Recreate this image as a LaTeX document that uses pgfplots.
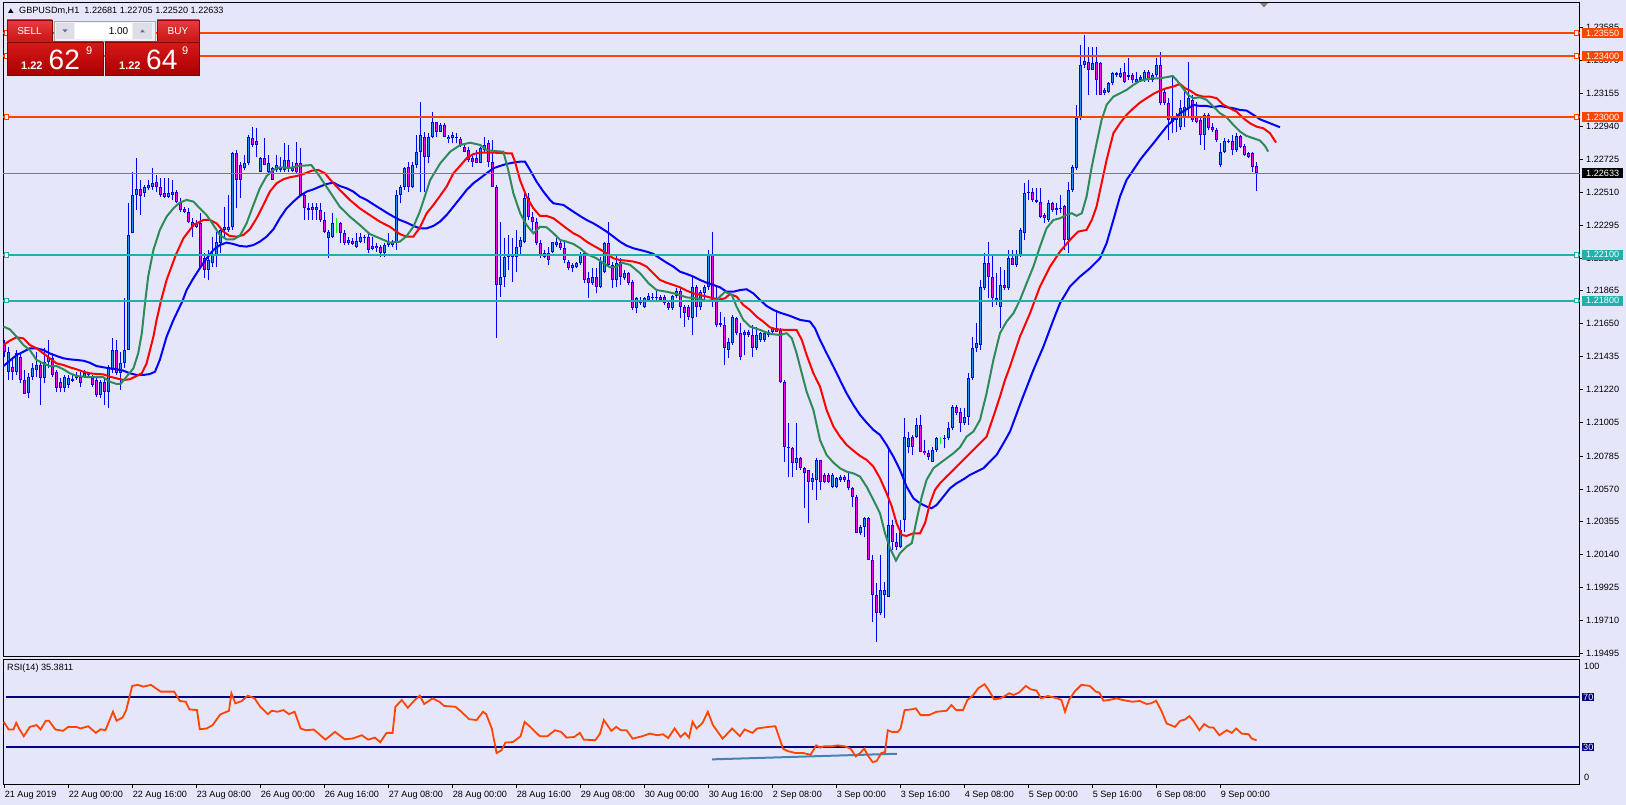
\documentclass[border=0pt]{standalone}
\usepackage{fontspec}
\setmainfont{Liberation Sans}
\usepackage{pgfplots}
\usepackage{pgfplotstable}
\pgfplotsset{compat=1.18}
\usetikzlibrary{calc,backgrounds}
\definecolor{lav}{RGB}{230,230,250}
\definecolor{ored}{RGB}{255,69,0}
\definecolor{lsea}{RGB}{32,178,170}
\definecolor{mablue}{RGB}{0,0,255}
\definecolor{mared}{RGB}{255,0,0}
\definecolor{magreen}{RGB}{46,139,87}
\definecolor{bullfill}{RGB}{30,144,255}
\definecolor{bearfill}{RGB}{255,0,255}
\definecolor{navyl}{RGB}{0,0,128}
\definecolor{trendc}{RGB}{70,130,180}
\definecolor{curp}{RGB}{120,120,135}
\definecolor{hdtop}{RGB}{232,60,60}
\definecolor{hdbot}{RGB}{200,20,20}
\definecolor{hddraw}{RGB}{150,0,0}
\definecolor{pxtop}{RGB}{215,25,25}
\definecolor{pxbot}{RGB}{170,0,0}
\definecolor{pxdraw}{RGB}{140,0,0}
\definecolor{sephl}{RGB}{240,150,150}
\definecolor{spinbg}{RGB}{240,240,244}
\definecolor{btnbg}{RGB}{222,222,230}
\definecolor{arrowc}{RGB}{100,110,170}
\newcommand\lab{\fontsize{9.1}{10}\selectfont}

% GBPUSD H1 bars: index, open, high, low, close
\pgfplotstableread{
i o h l c
0 1.21522 1.21544 1.21435 1.21467
1 1.21336 1.21500 1.21282 1.21467
2 1.21369 1.21435 1.21282 1.21336
3 1.21336 1.21478 1.21315 1.21456
4 1.21435 1.21456 1.21260 1.21282
5 1.21282 1.21347 1.21191 1.21191
6 1.21195 1.21326 1.21162 1.21304
7 1.21304 1.21391 1.21282 1.21358
8 1.21347 1.21467 1.21304 1.21380
9 1.21380 1.21402 1.21119 1.21293
10 1.21293 1.21489 1.21260 1.21402
11 1.21402 1.21544 1.21358 1.21435
12 1.21424 1.21445 1.21304 1.21315
13 1.21336 1.21347 1.21206 1.21228
14 1.21271 1.21293 1.21206 1.21228
15 1.21228 1.21315 1.21206 1.21304
16 1.21249 1.21315 1.21228 1.21293
17 1.21276 1.21315 1.21271 1.21289
18 1.21293 1.21336 1.21282 1.21315
19 1.21304 1.21336 1.21238 1.21260
20 1.21304 1.21347 1.21293 1.21326
21 1.21315 1.21336 1.21304 1.21326
22 1.21293 1.21315 1.21238 1.21249
23 1.21282 1.21304 1.21173 1.21184
24 1.21184 1.21282 1.21162 1.21271
25 1.21271 1.21304 1.21119 1.21206
26 1.21206 1.21380 1.21097 1.21369
27 1.21347 1.21554 1.21326 1.21478
28 1.21478 1.21544 1.21315 1.21326
29 1.21326 1.21467 1.21217 1.21391
30 1.21391 1.21816 1.21358 1.21478
31 1.21478 1.22437 1.21478 1.22230
32 1.22241 1.22644 1.22241 1.22491
33 1.22491 1.22731 1.22393 1.22530
34 1.22528 1.22589 1.22360 1.22485
35 1.22502 1.22557 1.22480 1.22546
36 1.22535 1.22589 1.22524 1.22557
37 1.22546 1.22666 1.22524 1.22568
38 1.22574 1.22622 1.22513 1.22541
39 1.22541 1.22600 1.22480 1.22491
40 1.22502 1.22600 1.22469 1.22480
41 1.22480 1.22600 1.22469 1.22502
42 1.22491 1.22589 1.22459 1.22513
43 1.22513 1.22524 1.22437 1.22448
44 1.22448 1.22469 1.22382 1.22393
45 1.22398 1.22415 1.22371 1.22382
46 1.22382 1.22404 1.22306 1.22317
47 1.22317 1.22339 1.22219 1.22284
48 1.22284 1.22328 1.22273 1.22306
49 1.22306 1.22371 1.22012 1.22023
50 1.22077 1.22110 1.21947 1.22001
51 1.22001 1.22132 1.21936 1.22066
52 1.22045 1.22219 1.22023 1.22099
53 1.22099 1.22252 1.22023 1.22186
54 1.22175 1.22284 1.22110 1.22262
55 1.22262 1.22415 1.22219 1.22284
56 1.22262 1.22491 1.22252 1.22284
57 1.22284 1.22774 1.22262 1.22764
58 1.22764 1.22785 1.22404 1.22589
59 1.22687 1.22709 1.22469 1.22589
60 1.22666 1.22753 1.22655 1.22698
61 1.22698 1.22883 1.22687 1.22873
62 1.22862 1.22938 1.22807 1.22818
63 1.22847 1.22927 1.22742 1.22818
64 1.22644 1.22742 1.22644 1.22731
65 1.22731 1.22862 1.22687 1.22687
66 1.22644 1.22753 1.22622 1.22698
67 1.22666 1.22676 1.22589 1.22589
68 1.22655 1.22753 1.22644 1.22687
69 1.22666 1.22742 1.22644 1.22655
70 1.22655 1.22829 1.22644 1.22720
71 1.22720 1.22818 1.22644 1.22666
72 1.22650 1.22709 1.22644 1.22676
73 1.22698 1.22840 1.22633 1.22644
74 1.22698 1.22796 1.22491 1.22491
75 1.22491 1.22513 1.22328 1.22404
76 1.22404 1.22437 1.22328 1.22393
77 1.22415 1.22437 1.22328 1.22393
78 1.22393 1.22437 1.22328 1.22411
79 1.22393 1.22437 1.22317 1.22328
80 1.22328 1.22382 1.22241 1.22252
81 1.22208 1.22262 1.22077 1.22252
82 1.22219 1.22371 1.22208 1.22306
83 1.22306 1.22339 1.22241 1.22306
84 1.22306 1.22317 1.22175 1.22241
85 1.22241 1.22262 1.22164 1.22175
86 1.22175 1.22219 1.22164 1.22197
87 1.22193 1.22208 1.22164 1.22171
88 1.22154 1.22241 1.22143 1.22191
89 1.22186 1.22241 1.22175 1.22219
90 1.22208 1.22230 1.22175 1.22219
91 1.22219 1.22241 1.22114 1.22132
92 1.22158 1.22219 1.22132 1.22136
93 1.22158 1.22175 1.22121 1.22143
94 1.22154 1.22164 1.22088 1.22110
95 1.22110 1.22175 1.22088 1.22164
96 1.22164 1.22241 1.22154 1.22186
97 1.22164 1.22197 1.22154 1.22186
98 1.22186 1.22524 1.22132 1.22491
99 1.22491 1.22557 1.22437 1.22546
100 1.22546 1.22676 1.22524 1.22666
101 1.22672 1.22709 1.22513 1.22546
102 1.22546 1.22709 1.22535 1.22687
103 1.22687 1.22883 1.22666 1.22774
104 1.22774 1.23101 1.22513 1.22883
105 1.22873 1.22905 1.22513 1.22742
106 1.22742 1.22894 1.22698 1.22873
107 1.22873 1.23036 1.22862 1.22971
108 1.22971 1.22971 1.22873 1.22905
109 1.22905 1.22960 1.22905 1.22949
110 1.22949 1.22960 1.22873 1.22873
111 1.22857 1.22883 1.22829 1.22873
112 1.22862 1.22905 1.22829 1.22883
113 1.22873 1.22894 1.22829 1.22862
114 1.22855 1.22873 1.22807 1.22818
115 1.22807 1.22818 1.22774 1.22774
116 1.22785 1.22807 1.22709 1.22720
117 1.22731 1.22753 1.22676 1.22709
118 1.22731 1.22785 1.22698 1.22703
119 1.22703 1.22807 1.22698 1.22796
120 1.22785 1.22873 1.22774 1.22818
121 1.22829 1.22851 1.22676 1.22709
122 1.22709 1.22851 1.22546 1.22546
123 1.22546 1.22557 1.21554 1.21903
124 1.21903 1.22317 1.21827 1.21958
125 1.21958 1.22208 1.21892 1.22088
126 1.22088 1.22230 1.22001 1.22099
127 1.22088 1.22208 1.21925 1.22099
128 1.22088 1.22262 1.21990 1.22154
129 1.22154 1.22219 1.22099 1.22197
130 1.22186 1.22513 1.22175 1.22469
131 1.22469 1.22502 1.22328 1.22350
132 1.22350 1.22382 1.22262 1.22317
133 1.22317 1.22339 1.22164 1.22175
134 1.22175 1.22197 1.22077 1.22099
135 1.22110 1.22132 1.22077 1.22088
136 1.22110 1.22154 1.22034 1.22066
137 1.22121 1.22186 1.22110 1.22186
138 1.22164 1.22208 1.22154 1.22186
139 1.22175 1.22197 1.22132 1.22143
140 1.22143 1.22186 1.22045 1.22066
141 1.22056 1.22066 1.22001 1.22012
142 1.22012 1.22045 1.21990 1.22034
143 1.22023 1.22056 1.22012 1.22045
144 1.22045 1.22121 1.22034 1.22099
145 1.22110 1.22121 1.21914 1.21936
146 1.21947 1.21990 1.21816 1.21914
147 1.21914 1.22012 1.21903 1.21958
148 1.21958 1.22012 1.21848 1.21892
149 1.21892 1.22088 1.21881 1.22056
150 1.21990 1.22186 1.21979 1.22175
151 1.22175 1.22317 1.22023 1.22034
152 1.22034 1.22056 1.21881 1.21936
153 1.21936 1.22099 1.21892 1.22045
154 1.22056 1.22077 1.21903 1.21958
155 1.21947 1.22001 1.21936 1.21979
156 1.21979 1.21990 1.21903 1.21914
157 1.21925 1.21936 1.21740 1.21750
158 1.21750 1.21827 1.21718 1.21816
159 1.21783 1.21827 1.21772 1.21805
160 1.21761 1.21827 1.21750 1.21816
161 1.21805 1.21848 1.21794 1.21831
162 1.21816 1.21848 1.21805 1.21827
163 1.21816 1.21870 1.21805 1.21827
164 1.21827 1.21838 1.21794 1.21805
165 1.21827 1.21838 1.21772 1.21783
166 1.21783 1.21805 1.21740 1.21750
167 1.21750 1.21838 1.21740 1.21831
168 1.21831 1.21881 1.21816 1.21864
169 1.21864 1.21881 1.21685 1.21761
170 1.21761 1.21772 1.21631 1.21718
171 1.21757 1.21772 1.21674 1.21696
172 1.21685 1.21958 1.21576 1.21892
173 1.21892 1.21903 1.21696 1.21761
174 1.21761 1.21870 1.21740 1.21859
175 1.21848 1.21903 1.21794 1.21892
176 1.21892 1.22132 1.21870 1.22099
177 1.22099 1.22252 1.21761 1.21805
178 1.21805 1.21892 1.21631 1.21642
179 1.21652 1.21729 1.21631 1.21642
180 1.21642 1.21696 1.21380 1.21489
181 1.21478 1.21554 1.21424 1.21533
182 1.21522 1.21707 1.21511 1.21696
183 1.21685 1.21696 1.21576 1.21587
184 1.21587 1.21652 1.21413 1.21435
185 1.21576 1.21609 1.21445 1.21598
186 1.21598 1.21609 1.21565 1.21576
187 1.21576 1.21642 1.21435 1.21489
188 1.21489 1.21631 1.21478 1.21576
189 1.21544 1.21598 1.21533 1.21587
190 1.21544 1.21598 1.21533 1.21587
191 1.21598 1.21609 1.21565 1.21576
192 1.21598 1.21631 1.21576 1.21620
193 1.21620 1.21740 1.21598 1.21598
194 1.21609 1.21620 1.21260 1.21271
195 1.21272 1.21282 1.20749 1.20847
196 1.20836 1.20999 1.20651 1.20847
197 1.20836 1.20847 1.20651 1.20738
198 1.20738 1.20999 1.20694 1.20770
199 1.20770 1.20781 1.20694 1.20705
200 1.20705 1.20716 1.20444 1.20672
201 1.20694 1.20694 1.20346 1.20618
202 1.20618 1.20672 1.20564 1.20640
203 1.20629 1.20770 1.20498 1.20760
204 1.20760 1.20760 1.20564 1.20618
205 1.20662 1.20672 1.20607 1.20618
206 1.20662 1.20672 1.20607 1.20618
207 1.20585 1.20672 1.20574 1.20662
208 1.20585 1.20651 1.20574 1.20640
209 1.20629 1.20662 1.20618 1.20651
210 1.20651 1.20662 1.20618 1.20629
211 1.20629 1.20672 1.20564 1.20574
212 1.20574 1.20585 1.20455 1.20520
213 1.20520 1.20531 1.20280 1.20280
214 1.20280 1.20335 1.20269 1.20324
215 1.20324 1.20389 1.20258 1.20378
216 1.20378 1.20389 1.20106 1.20106
217 1.20106 1.20139 1.19703 1.19877
218 1.19877 1.19953 1.19572 1.19757
219 1.19757 1.20139 1.19746 1.19909
220 1.19877 1.19964 1.19725 1.19909
221 1.19866 1.20836 1.19866 1.20335
222 1.20335 1.20367 1.20171 1.20226
223 1.20226 1.20280 1.20171 1.20193
224 1.20193 1.20367 1.20182 1.20302
225 1.20367 1.21032 1.20291 1.20912
226 1.20847 1.20945 1.20803 1.20901
227 1.20912 1.20923 1.20792 1.20847
228 1.20912 1.21032 1.20901 1.20988
229 1.20988 1.21054 1.20814 1.20814
230 1.20820 1.20890 1.20792 1.20803
231 1.20807 1.20825 1.20760 1.20781
232 1.20749 1.20847 1.20749 1.20825
233 1.20825 1.20912 1.20814 1.20901
234 1.20890 1.20912 1.20863 1.20890
235 1.20895 1.20923 1.20836 1.20901
236 1.20901 1.21010 1.20890 1.20967
237 1.20967 1.21119 1.20956 1.21108
238 1.21108 1.21119 1.21054 1.21065
239 1.21076 1.21097 1.20945 1.20999
240 1.20999 1.21097 1.20988 1.21043
241 1.21043 1.21326 1.20988 1.21293
242 1.21293 1.21566 1.21282 1.21489
243 1.21489 1.21653 1.21468 1.21522
244 1.21511 1.21936 1.21479 1.21893
245 1.21882 1.22110 1.21871 1.22045
246 1.22045 1.22187 1.21816 1.21958
247 1.21958 1.22100 1.21762 1.21816
248 1.21816 1.21980 1.21773 1.21794
249 1.21762 1.22023 1.21620 1.21903
250 1.21903 1.22002 1.21871 1.21882
251 1.21882 1.22132 1.21871 1.22078
252 1.22078 1.22132 1.22034 1.22034
253 1.22034 1.22132 1.22023 1.22100
254 1.22100 1.22274 1.22089 1.22263
255 1.22241 1.22568 1.22198 1.22503
256 1.22503 1.22590 1.22459 1.22514
257 1.22509 1.22535 1.22448 1.22459
258 1.22459 1.22535 1.22437 1.22448
259 1.22448 1.22535 1.22339 1.22350
260 1.22361 1.22372 1.22306 1.22339
261 1.22328 1.22459 1.22317 1.22437
262 1.22437 1.22448 1.22383 1.22394
263 1.22394 1.22437 1.22361 1.22405
264 1.22398 1.22492 1.22372 1.22405
265 1.22416 1.22426 1.22132 1.22198
266 1.22198 1.22579 1.22110 1.22524
267 1.22524 1.22688 1.22514 1.22677
268 1.22666 1.23080 1.22655 1.22993
269 1.22993 1.23472 1.22982 1.23341
270 1.23341 1.23538 1.23320 1.23370
271 1.23363 1.23461 1.23145 1.23309
272 1.23309 1.23461 1.23309 1.23357
273 1.23363 1.23461 1.23145 1.23243
274 1.23357 1.23363 1.23145 1.23145
275 1.23178 1.23189 1.23145 1.23156
276 1.23167 1.23232 1.23156 1.23222
277 1.23222 1.23298 1.23211 1.23287
278 1.23287 1.23298 1.23265 1.23276
279 1.23265 1.23320 1.23254 1.23287
280 1.23298 1.23352 1.23222 1.23232
281 1.23265 1.23385 1.23243 1.23276
282 1.23276 1.23287 1.23222 1.23243
283 1.23232 1.23298 1.23222 1.23247
284 1.23243 1.23276 1.23232 1.23265
285 1.23243 1.23309 1.23232 1.23298
286 1.23298 1.23309 1.23232 1.23243
287 1.23243 1.23287 1.23232 1.23276
288 1.23276 1.23385 1.23265 1.23341
289 1.23341 1.23429 1.23080 1.23091
290 1.23167 1.23178 1.23080 1.23091
291 1.23091 1.23124 1.22851 1.22982
292 1.22993 1.23265 1.22895 1.22971
293 1.22982 1.23026 1.22906 1.23004
294 1.22938 1.23113 1.22917 1.23058
295 1.23004 1.23167 1.22938 1.23069
296 1.23058 1.23363 1.23004 1.23124
297 1.23113 1.23145 1.22971 1.22982
298 1.23004 1.23102 1.22960 1.22971
299 1.22982 1.22993 1.22818 1.22884
300 1.22884 1.23026 1.22786 1.23015
301 1.23015 1.23026 1.22917 1.22927
302 1.22938 1.22960 1.22906 1.22917
303 1.22917 1.22927 1.22840 1.22851
304 1.22687 1.22829 1.22677 1.22774
305 1.22774 1.22864 1.22764 1.22844
306 1.22838 1.22856 1.22834 1.22844
307 1.22844 1.22883 1.22753 1.22785
308 1.22785 1.22896 1.22775 1.22877
309 1.22877 1.22884 1.22797 1.22808
310 1.22811 1.22825 1.22746 1.22752
311 1.22766 1.22775 1.22735 1.22740
312 1.22766 1.22775 1.22644 1.22674
313 1.22681 1.22705 1.22520 1.22633
}\candles

\begin{document}
\begin{tikzpicture}[x=1pt,y=1pt]

% ---------- price panel ----------
\begin{axis}[
  at={(0,0)}, anchor=south west,
  scale only axis, width=1577pt, height=654pt,
  xmin=-0.4, xmax=393.85,
  ymin=1.194716, ymax=1.237461,
  axis line style={black, line width=1pt},
  axis background/.style={fill=lav},
  xtick=\empty,
  ytick={1.19495,1.19710,1.19925,1.20140,1.20355,1.20570,1.20785,1.21005,1.21220,1.21435,1.21650,1.21865,1.22080,1.22295,1.22510,1.22725,1.22940,1.23155,1.23370,1.23585},
  yticklabels={1.19495,1.19710,1.19925,1.20140,1.20355,1.20570,1.20785,1.21005,1.21220,1.21435,1.21650,1.21865,1.22080,1.22295,1.22510,1.22725,1.22940,1.23155,1.23370,1.23585},
  ytick pos=right, yticklabel pos=right,
  tick align=outside, major tick length=3pt,
  tick style={black, line width=0.8pt},
  yticklabel style={font=\lab, anchor=west, inner sep=0pt, xshift=3pt},
  /pgf/number format/assume math mode=true,
  clip mode=individual,
]
% wicks
\addplot[mablue, line width=1pt, quiver={u=0, v=\thisrow{h}-\thisrow{l}}]
  table[x=i, y=l] {\candles};
% body outlines
\addplot[mablue, line width=3pt, quiver={u=0, v=\thisrow{c}-\thisrow{o}}]
  table[x=i, y=o] {\candles};
% bull bodies
\addplot[bullfill, line width=1pt,
  quiver={u=0, v=\thisrow{c}-\thisrow{o},
    every arrow/.append style={shorten <=1pt, shorten >=1pt}},
  restrict expr to domain={\thisrow{c}-\thisrow{o}}{0.00014:1}]
  table[x=i, y=o] {\candles};
% bear bodies
\addplot[bearfill, line width=1pt,
  quiver={u=0, v=\thisrow{c}-\thisrow{o},
    every arrow/.append style={shorten <=1pt, shorten >=1pt}},
  restrict expr to domain={\thisrow{c}-\thisrow{o}}{-1:-0.00014}]
  table[x=i, y=o] {\candles};
% doji
\addplot[green, line width=1pt, quiver={u=0, v=\thisrow{h}-\thisrow{l}},
  restrict expr to domain={\thisrow{c}-\thisrow{o}}{-0.000001:0.000001}]
  table[x=i, y=l] {\candles};

% Alligator lines
\addplot[mablue, line width=2pt] coordinates {
(-0.3,1.21373) (1.3,1.21408) (3,1.21445) (4.7,1.21467) (6.3,1.21489) (8,1.21489) (9.7,1.21478) (11.3,1.21456) (13,1.21439) (14.7,1.21424) (16.3,1.21417) (18,1.21413) (19.7,1.21408) (21.3,1.21395) (23,1.21373) (24.7,1.21365) (26.3,1.21358) (28,1.21352) (29.7,1.21343) (31.3,1.21326) (33,1.21315) (34.7,1.21315) (36.3,1.21321) (37.6,1.21336) (38.8,1.21413) (40.5,1.21565) (42.2,1.21674) (44.5,1.21800) (45.5,1.21870) (47.2,1.21947) (48.8,1.22012) (50.5,1.22077) (52.2,1.22132) (53.8,1.22164) (55.5,1.22180) (57.2,1.22171) (58.8,1.22158) (60.5,1.22154) (62.2,1.22164) (63.8,1.22186) (65.5,1.22219) (67.2,1.22267) (68.8,1.22339) (70.5,1.22404) (72.2,1.22448) (73.8,1.22485) (75.5,1.22513) (77.2,1.22528) (78.8,1.22546) (80.5,1.22563) (82.2,1.22572) (83.8,1.22550) (85.5,1.22535) (87.2,1.22513) (88.8,1.22480) (90.5,1.22459) (92.2,1.22430) (93.8,1.22404) (95.5,1.22376) (97.2,1.22350) (98.8,1.22328) (100.5,1.22311) (102.2,1.22289) (103.85,1.22273) (105.5,1.22273) (107.2,1.22289) (108.85,1.22317) (110.5,1.22360) (112.2,1.22415) (113.85,1.22469) (115.5,1.22524) (117.2,1.22568) (118.85,1.22600) (120.5,1.22633) (122.2,1.22666) (123.85,1.22681) (125.5,1.22694) (127.2,1.22703) (128.85,1.22709) (130.1,1.22709) (131.35,1.22655) (133,1.22578) (134.7,1.22513) (136.35,1.22459) (137.2,1.22437) (139.7,1.22426) (142.2,1.22382) (143.85,1.22354) (145.5,1.22328) (147.2,1.22306) (148.85,1.22280) (150.5,1.22252) (152.2,1.22219) (153.85,1.22186) (155.5,1.22160) (157.2,1.22143) (158.85,1.22132) (160.5,1.22121) (162.2,1.22106) (163.85,1.22077) (165.5,1.22049) (167.2,1.22023) (168.85,1.21990) (170.5,1.21975) (172.2,1.21958) (173.85,1.21936) (175.5,1.21918) (177.2,1.21903) (178.85,1.21888) (180.5,1.21859) (182.2,1.21859) (183.85,1.21870) (185.5,1.21875) (187.2,1.21848) (188.85,1.21805) (190.5,1.21766) (192.2,1.21740) (193.85,1.21722) (196.35,1.21701) (198.85,1.21675) (201.35,1.21664) (202.6,1.21620) (203.85,1.21544) (205.5,1.21457) (207.2,1.21370) (208.85,1.21282) (210.5,1.21195) (212.2,1.21119) (213.85,1.21054) (215.5,1.21004) (217.2,1.20956) (218.85,1.20923) (220.5,1.20858) (222.2,1.20781) (223.85,1.20694) (225.5,1.20585) (227.2,1.20509) (228.85,1.20476) (230.5,1.20455) (231.75,1.20444) (233,1.20465) (234.7,1.20520) (236.35,1.20574) (238,1.20607) (239.7,1.20633) (241.35,1.20662) (243,1.20683) (244.7,1.20705) (246.35,1.20749) (248,1.20792) (249.7,1.20868) (251.35,1.20945) (254.3,1.21152) (257.2,1.21347) (259.7,1.21500) (262.2,1.21675) (263.85,1.21784) (266.35,1.21893) (268.85,1.21958) (271.35,1.22012) (273.85,1.22078) (275.5,1.22176) (277.2,1.22328) (278.85,1.22481) (280.5,1.22590) (282.2,1.22655) (283.85,1.22720) (285.5,1.22775) (287.2,1.22829) (288.85,1.22884) (290.5,1.22938) (292.2,1.22982) (293.85,1.23026) (295.5,1.23051) (297.2,1.23080) (298.85,1.23073) (300.5,1.23073) (302.2,1.23065) (303.85,1.23073) (305.5,1.23065) (307.2,1.23058) (308.85,1.23047) (310.5,1.23043) (312.2,1.23015) (313.85,1.22986) (316.35,1.22960) (318.85,1.22934)};
\addplot[mared, line width=2pt] coordinates {
(-0.3,1.21511) (1.3,1.21539) (3,1.21561) (4.7,1.21554) (6.3,1.21511) (8,1.21489) (9.7,1.21456) (11.3,1.21424) (13,1.21391) (14.7,1.21380) (16.3,1.21365) (18,1.21352) (19.7,1.21336) (21.3,1.21326) (23,1.21321) (24.7,1.21319) (26.3,1.21304) (28,1.21293) (29.7,1.21282) (31.3,1.21287) (33,1.21308) (34.3,1.21326) (35.5,1.21391) (37.2,1.21565) (38,1.21674) (39.1,1.21800) (40.5,1.21936) (42.8,1.22099) (44.7,1.22208) (47.2,1.22295) (49.7,1.22328) (51.3,1.22328) (53,1.22306) (54.7,1.22252) (56.3,1.22223) (58,1.22219) (59.7,1.22230) (61.3,1.22267) (63,1.22339) (64.7,1.22426) (66.3,1.22513) (68,1.22568) (69.7,1.22594) (71.3,1.22607) (73,1.22615) (74.7,1.22628) (76.8,1.22650) (78.4,1.22655) (80.1,1.22633) (81.3,1.22594) (83.8,1.22524) (86.3,1.22459) (88.8,1.22404) (91.3,1.22360) (93.8,1.22317) (96.3,1.22284) (98.8,1.22236) (100.5,1.22219) (102.2,1.22219) (103.85,1.22280) (105.5,1.22371) (107.2,1.22426) (108.85,1.22485) (110.5,1.22546) (112.2,1.22633) (113.85,1.22681) (115.5,1.22731) (117.2,1.22759) (118.85,1.22768) (122.2,1.22768) (125.5,1.22764) (126.8,1.22764) (127.6,1.22709) (128.85,1.22589) (130.5,1.22480) (132.2,1.22404) (133.85,1.22354) (135.5,1.22354) (137.2,1.22339) (138.85,1.22306) (140.5,1.22273) (142.2,1.22241) (143.85,1.22219) (145.5,1.22186) (147.2,1.22160) (148.85,1.22136) (150.5,1.22110) (152.2,1.22077) (153.85,1.22066) (155.5,1.22062) (157.2,1.22056) (158.85,1.22045) (160.5,1.22023) (162.2,1.21979) (163.85,1.21936) (165.5,1.21918) (167.2,1.21903) (168.85,1.21888) (170.5,1.21866) (172.2,1.21848) (173.85,1.21838) (175.5,1.21827) (177.2,1.21816) (178.85,1.21809) (180.1,1.21816) (181.35,1.21844) (183,1.21827) (184.7,1.21772) (186.35,1.21740) (188,1.21696) (189.7,1.21663) (191.35,1.21626) (193,1.21613) (195.5,1.21609) (198,1.21609) (199.3,1.21544) (200.5,1.21446) (202.2,1.21326) (203.85,1.21239) (205.5,1.21086) (207.2,1.20978) (208.85,1.20912) (210.5,1.20858) (212.2,1.20820) (213.85,1.20786) (215.5,1.20760) (217.2,1.20716) (218.85,1.20640) (220.5,1.20542) (221.8,1.20455) (223,1.20346) (224.3,1.20269) (225.5,1.20263) (227.2,1.20280) (228.85,1.20280) (230.1,1.20346) (231.35,1.20476) (232.6,1.20564) (233.85,1.20607) (235.5,1.20651) (237.2,1.20694) (238.85,1.20738) (240.5,1.20781) (242.2,1.20825) (243.85,1.20868) (245.5,1.20912) (247.2,1.21043) (248.85,1.21174) (250.1,1.21282) (251.35,1.21370) (253.85,1.21566) (256.35,1.21718) (258.85,1.21893) (261.35,1.22023) (263.85,1.22121) (266.35,1.22198) (268.4,1.22252) (270.5,1.22263) (271.8,1.22328) (273,1.22416) (274.25,1.22568) (275.5,1.22720) (277.2,1.22895) (278.85,1.22960) (280.5,1.23015) (282.2,1.23058) (283.85,1.23095) (285.5,1.23124) (287.2,1.23152) (288.85,1.23174) (290.5,1.23189) (292.2,1.23200) (293.85,1.23217) (295.1,1.23189) (296.35,1.23174) (298,1.23145) (299.7,1.23134) (301.35,1.23134) (303,1.23124) (304.7,1.23080) (306.35,1.23058) (308,1.23036) (309.7,1.22993) (311.35,1.22960) (313,1.22938) (314.7,1.22927) (316.35,1.22895) (317.85,1.22834)};
\addplot[magreen, line width=2pt] coordinates {
(-0.3,1.21631) (1.3,1.21613) (3,1.21565) (4.7,1.21511) (6.3,1.21478) (8,1.21413) (9.7,1.21391) (11.3,1.21373) (13,1.21373) (14.7,1.21352) (16.3,1.21326) (18,1.21308) (19.7,1.21304) (21.3,1.21300) (23,1.21300) (24.7,1.21300) (26.3,1.21271) (28,1.21256) (29,1.21256) (30.5,1.21304) (32.2,1.21358) (33.4,1.21456) (34.3,1.21587) (35.1,1.21783) (35.9,1.21958) (37.2,1.22132) (38.8,1.22262) (40.5,1.22350) (42.2,1.22404) (43.8,1.22441) (45.5,1.22459) (47.2,1.22448) (48.8,1.22404) (50.5,1.22360) (52.2,1.22295) (53.8,1.22230) (55.5,1.22201) (57.2,1.22201) (58.8,1.22223) (60.5,1.22306) (62.2,1.22426) (63.8,1.22535) (65.5,1.22615) (67.2,1.22655) (68.8,1.22672) (71.3,1.22668) (73.8,1.22681) (76.7,1.22687) (78.8,1.22611) (81.3,1.22513) (83.8,1.22415) (86.3,1.22350) (88.8,1.22295) (91.3,1.22236) (93.8,1.22208) (96.3,1.22180) (98.8,1.22186) (100.5,1.22223) (102.2,1.22284) (103.8,1.22382) (106.4,1.22589) (108.9,1.22698) (111.4,1.22774) (113.9,1.22818) (116.4,1.22833) (118.9,1.22818) (120.5,1.22785) (122.2,1.22779) (124.7,1.22774) (125.9,1.22655) (127.2,1.22502) (128.9,1.22371) (130.5,1.22295) (132.2,1.22241) (133.9,1.22284) (135.5,1.22280) (137.2,1.22241) (138.9,1.22197) (140.5,1.22186) (142.2,1.22171) (143.9,1.22143) (145.5,1.22106) (148,1.22077) (149.7,1.22045) (151.4,1.22018) (153,1.22023) (154.3,1.22049) (156.4,1.22034) (158.9,1.21979) (161,1.21914) (163,1.21870) (165.5,1.21859) (168,1.21844) (170.5,1.21822) (173,1.21816) (175.5,1.21800) (178,1.21805) (180.1,1.21859) (181.8,1.21838) (183,1.21761) (184.7,1.21674) (186.4,1.21631) (188.9,1.21609) (191.4,1.21583) (193.9,1.21576) (195.5,1.21588) (196.8,1.21555) (198,1.21457) (199.3,1.21326) (200.5,1.21206) (202.2,1.21086) (203.85,1.20890) (205.5,1.20792) (207.2,1.20742) (208.85,1.20705) (210.5,1.20683) (212.2,1.20672) (213.85,1.20651) (215.5,1.20585) (217.2,1.20498) (218.85,1.20411) (220.1,1.20280) (221.35,1.20182) (222.85,1.20102) (223.85,1.20150) (225.5,1.20193) (226.8,1.20215) (228,1.20367) (229.3,1.20520) (230.5,1.20629) (232.2,1.20705) (233.85,1.20738) (235.5,1.20770) (237.2,1.20803) (238.85,1.20842) (240.5,1.20912) (242.2,1.20945) (243.85,1.21021) (245.5,1.21195) (247.2,1.21413) (248.85,1.21588) (250.5,1.21664) (252.2,1.21718) (253.85,1.21805) (255.5,1.21914) (257.2,1.22023) (258.85,1.22154) (260.5,1.22274) (262.2,1.22328) (263.85,1.22339) (265.5,1.22361) (266.8,1.22372) (268,1.22355) (269.3,1.22372) (270.5,1.22481) (271.8,1.22677) (273,1.22829) (274.25,1.22982) (275.5,1.23080) (277.2,1.23134) (278.85,1.23156) (280.5,1.23178) (282.2,1.23211) (283.85,1.23237) (285.5,1.23247) (287.2,1.23254) (288.85,1.23254) (290.5,1.23261) (292,1.23269) (293,1.23243) (294.25,1.23200) (295.9,1.23145) (297.2,1.23124) (298.85,1.23130) (300.5,1.23113) (302.2,1.23069) (303.85,1.23026) (305.5,1.22999) (307.2,1.22949) (308.85,1.22906) (310.5,1.22877) (312.2,1.22862) (313.85,1.22847) (315.1,1.22812) (315.9,1.22775)};

% horizontal levels
\addplot[curp, line width=0.8pt] coordinates {(-0.4,1.22633) (393.85,1.22633)};
\addplot[ored, line width=2pt] coordinates {(-0.4,1.23550) (393.85,1.23550)};
\addplot[ored, line width=2pt] coordinates {(-0.4,1.23400) (393.85,1.23400)};
\addplot[ored, line width=2pt] coordinates {(-0.4,1.23000) (393.85,1.23000)};
\addplot[lsea, line width=2pt] coordinates {(-0.4,1.22100) (393.85,1.22100)};
\addplot[lsea, line width=2pt] coordinates {(-0.4,1.21800) (393.85,1.21800)};

\foreach \v/\cc in {1.23550/ored,1.23400/ored,1.23000/ored,1.22100/lsea,1.21800/lsea}{
  \edef\tmp{\noexpand\node[draw=\cc, fill=white, line width=1pt, minimum size=4.5pt, inner sep=0pt] at (axis cs:0.5,\v) {};
    \noexpand\node[draw=\cc, fill=white, line width=1pt, minimum size=4.5pt, inner sep=0pt] at (axis cs:393.0,\v) {};
    \noexpand\node[fill=\cc, text=white, font=\noexpand\lab, inner sep=0pt, minimum width=41pt, minimum height=10pt, anchor=west, xshift=2pt] at (axis cs:393.85,\v) {\v};}
  \tmp
}
\node[fill=black, text=white, font=\lab, inner sep=0pt, minimum width=41pt, minimum height=10pt, anchor=west, xshift=2pt] at (axis cs:393.85,1.22633) {1.22633};
\coordinate (mtl) at (rel axis cs:0,1);
\end{axis}

% ---------- RSI panel (placed from the drawn top-left corner of the price panel) ----------
\begin{axis}[
  at={($(mtl)+(0,-781.5)$)}, anchor=south west,
  scale only axis, width=1577pt, height=125pt,
  xmin=-0.4, xmax=393.85, ymin=0, ymax=100,
  axis line style={black, line width=1pt},
  axis background/.style={fill=lav},
  ytick=\empty,
  xtick={0,16,32,48,64,80,96,112,128,144,160,176,192,208,224,240,256,272,288,304},
  xticklabels={21 Aug 2019,22 Aug 00:00,22 Aug 16:00,23 Aug 08:00,26 Aug 00:00,26 Aug 16:00,27 Aug 08:00,28 Aug 00:00,28 Aug 16:00,29 Aug 08:00,30 Aug 00:00,30 Aug 16:00,2 Sep 08:00,3 Sep 00:00,3 Sep 16:00,4 Sep 08:00,5 Sep 00:00,5 Sep 16:00,6 Sep 08:00,9 Sep 00:00},
  xtick pos=bottom,
  tick align=outside, major tick length=4pt,
  tick style={black, line width=0.8pt},
  xticklabel style={font=\lab, anchor=north west, inner sep=0pt, xshift=0pt, yshift=-2.5pt},
  clip mode=individual,
]
\addplot[navyl, line width=2.2pt] coordinates {(0.3,70) (393.85,70)};
\addplot[navyl, line width=2.2pt] coordinates {(0.3,30) (393.85,30)};
\addplot[trendc, line width=2pt] coordinates {(176.9,20.1) (223.1,24.6)};
\addplot[ored, line width=1.8pt] coordinates {
(-0.2,50.1) (1,44) (2.2,44) (2.9,49.3) (3.6,44.8) (4.8,38.6) (6.3,46.1) (8,47.5) (9,44) (10.3,51) (11.1,51) (12.7,44) (14.6,42.9) (15.9,46.1) (18,46) (19,44.8) (20.9,46.6) (22.8,41.3) (24,44.2) (25.2,43.4) (27.1,58.2) (28,51) (29.5,53.6) (30.4,59.5) (31.9,78.9) (33.3,79.7) (34.7,78.3) (36.6,79.7) (39,74.3) (42.4,74.3) (43.8,66.8) (45.3,66.2) (46.2,60.1) (48.1,59.5) (48.8,44.2) (50.5,44.8) (52,47.5) (53.9,56) (56.1,59) (56.7,73) (57.7,64.9) (59.3,66.8) (60.8,71.1) (62.5,68.9) (63.9,62.2) (65.8,56.3) (66.8,59) (68.2,58.2) (69.7,59.5) (71.1,56.3) (72.5,58.2) (74,44.8) (75.4,43.4) (77.3,44) (80.2,35.9) (82.6,42.1) (85,36.2) (86.9,36.7) (89.3,39.4) (90.9,35.9) (92.6,37.5) (93.9,33.8) (95.5,41.3) (97,41.3) (97.7,62.2) (99.3,67.6) (100.8,61.4) (102.7,68.1) (103.8,71.1) (104.9,64.4) (107,68.9) (108.7,66.2) (109.9,62.8) (112.7,62.2) (114.2,58.2) (116.1,52.3) (118,51.5) (119.6,58.2) (120.4,56.3) (121.8,44.8) (123,25.2) (124.2,27.3) (125.2,33.5) (127.1,34) (129,38.6) (130,50.1) (131.4,46.1) (133.8,38.6) (135.7,38.6) (137.6,43.4) (139.1,42.1) (140.5,37.5) (142.4,38) (143.8,41.3) (144.8,35.9) (147.7,35.4)
(148.85,40.7) (149.8,51.5) (151.7,42.9) (152.9,46.1) (154.1,43.4) (155.5,43.4) (157,36.7) (159.4,38.6) (161.3,40.7) (163.2,39.4) (164.6,40.2) (165.9,37.2) (167.5,44.8) (169,38) (170.1,41.3) (171.1,37.5) (172,50.1) (173,44.8) (174.5,49.3) (175.8,58.2) (177.1,47.5) (179.5,36.7) (181.9,44.8) (183.8,38.6) (185,44) (187,41.3) (188.1,44.8) (191,46.1) (192.7,46.6) (194.6,28.7) (195.7,26.8) (197.7,25.2) (199.6,25.2) (201.5,23.8) (202.9,31.3) (203.9,29.5) (204.8,30.5) (206.7,30.5) (208.2,31.3) (210.1,30.5) (211.5,28.7) (212.8,22.5) (213.9,25.2) (214.9,28.7) (215.8,23.3) (217,17.9) (218,18.7) (219.2,25.2) (220.1,26) (220.8,43.4) (221.8,42.1) (223.3,42.1) (224,44.8) (225,59.5) (226.8,60.1) (227.8,60.9) (229,55.5) (231.1,55.5) (233,58.2) (235.5,59) (236.7,63.6) (237.9,59.5) (239.6,59.5) (240.7,67.6) (242.2,71.6) (243.4,77) (245,80.2) (246,75.6) (247.4,68.1) (248.9,68.9) (249.8,70.3) (251.2,73) (252.2,71.6) (253.6,73.5) (255.3,78.9) (256.5,76.2) (258,75.1) (259.1,68.9) (260.8,70.8) (263.2,68.9) (264.2,67.6) (265.1,58.2) (266.1,67.6) (267.5,74.3) (269.2,79.7) (271.3,78.9) (272.8,74.3) (273.7,73.5) (274.7,67) (276.1,67.6) (278,68.9) (279.5,67.6) (281.9,66.2) (283.8,66.8) (285.5,64.4) (286.6,64.9)
(287.9,67) (289.3,58.2) (290.5,48.8) (292.6,46.1) (293.9,50.9) (295.1,52) (296.2,54.7) (297.2,50.9) (298.7,43.4) (299.9,48.3) (301.2,45.6) (302.2,45.6) (303.7,39.4) (305.5,43.4) (306.8,41.3) (307.9,44.8) (309.3,40.7) (311,40.2) (311.8,36.7) (313,35.4)};
\node[fill=navyl, text=white, font=\lab, inner sep=1pt, anchor=west, xshift=2pt] at (axis cs:393.85,70) {70};
\node[fill=navyl, text=white, font=\lab, inner sep=1pt, anchor=west, xshift=2pt] at (axis cs:393.85,30) {30};
\node[font=\lab, inner sep=0pt, anchor=west, xshift=4pt] at (axis cs:393.85,94.8) {100};
\node[font=\lab, inner sep=0pt, anchor=west, xshift=4pt] at (axis cs:393.85,6) {0};
\end{axis}

% ---------- canvas items, in a frame whose (3,802) is the price panel's top-left ----------
\begin{scope}[shift={($(mtl)-(3,802)$)}]
\begin{scope}[on background layer]
\fill[lav] (0,0) rectangle (1626,805);
\end{scope}
\node[font=\lab, anchor=west, inner sep=0pt] at (7,137) {RSI(14) 35.3811};
\fill[black] (8,792) -- (13.5,792) -- (10.75,796.5) -- cycle;
\node[font=\lab, anchor=west, inner sep=0pt] at (19,794) {GBPUSDm,H1\ \ 1.22681 1.22705 1.22520 1.22633};
\fill[gray] (1260,802) -- (1268,802) -- (1264,797.5) -- cycle;

% one-click trading panel
\shade[top color=hdtop, bottom color=hdbot, draw=hddraw] (7,785) rectangle (52,763);
\shade[top color=hdtop, bottom color=hdbot, draw=hddraw] (157,785) rectangle (199,763);
\draw[sephl, line width=0.8pt] (11,763.5) -- (49,763.5);
\draw[sephl, line width=0.8pt] (160,763.5) -- (196,763.5);
\node[text=white, font=\fontsize{10}{10}\selectfont] at (29.5,774) {SELL};
\node[text=white, font=\fontsize{10}{10}\selectfont] at (178,774) {BUY};
\fill[spinbg] (54,784) rectangle (155,764);
\draw[gray!70] (54,784) rectangle (155,764);
\fill[btnbg] (56,782) rectangle (74,766);
\fill[white] (75,782) rectangle (132,766);
\fill[btnbg] (133,782) rectangle (152,766);
\fill[arrowc] (62.5,775.5) -- (67.5,775.5) -- (65,772.5) -- cycle;
\fill[arrowc] (140,772.5) -- (145,772.5) -- (142.5,775.5) -- cycle;
\node[font=\fontsize{10}{10}\selectfont, anchor=east, inner sep=0pt] at (128.5,774) {1.00};
\shade[top color=pxtop, bottom color=pxbot, draw=pxdraw] (7,763) rectangle (103,730);
\shade[top color=pxtop, bottom color=pxbot, draw=pxdraw] (105,763) rectangle (199,730);
\node[text=white, font=\fontsize{11}{11}\selectfont\bfseries, anchor=base west, inner sep=0pt] at (21,735) {1.22};
\node[text=white, font=\fontsize{28}{28}\selectfont, anchor=base west, inner sep=0pt] at (48.5,735) {62};
\node[text=white, font=\fontsize{11}{11}\selectfont, anchor=base west, inner sep=0pt] at (86,750) {9};
\node[text=white, font=\fontsize{11}{11}\selectfont\bfseries, anchor=base west, inner sep=0pt] at (119,735) {1.22};
\node[text=white, font=\fontsize{28}{28}\selectfont, anchor=base west, inner sep=0pt] at (146,735) {64};
\node[text=white, font=\fontsize{11}{11}\selectfont, anchor=base west, inner sep=0pt] at (182,750) {9};
\end{scope}
\end{tikzpicture}
\end{document}
